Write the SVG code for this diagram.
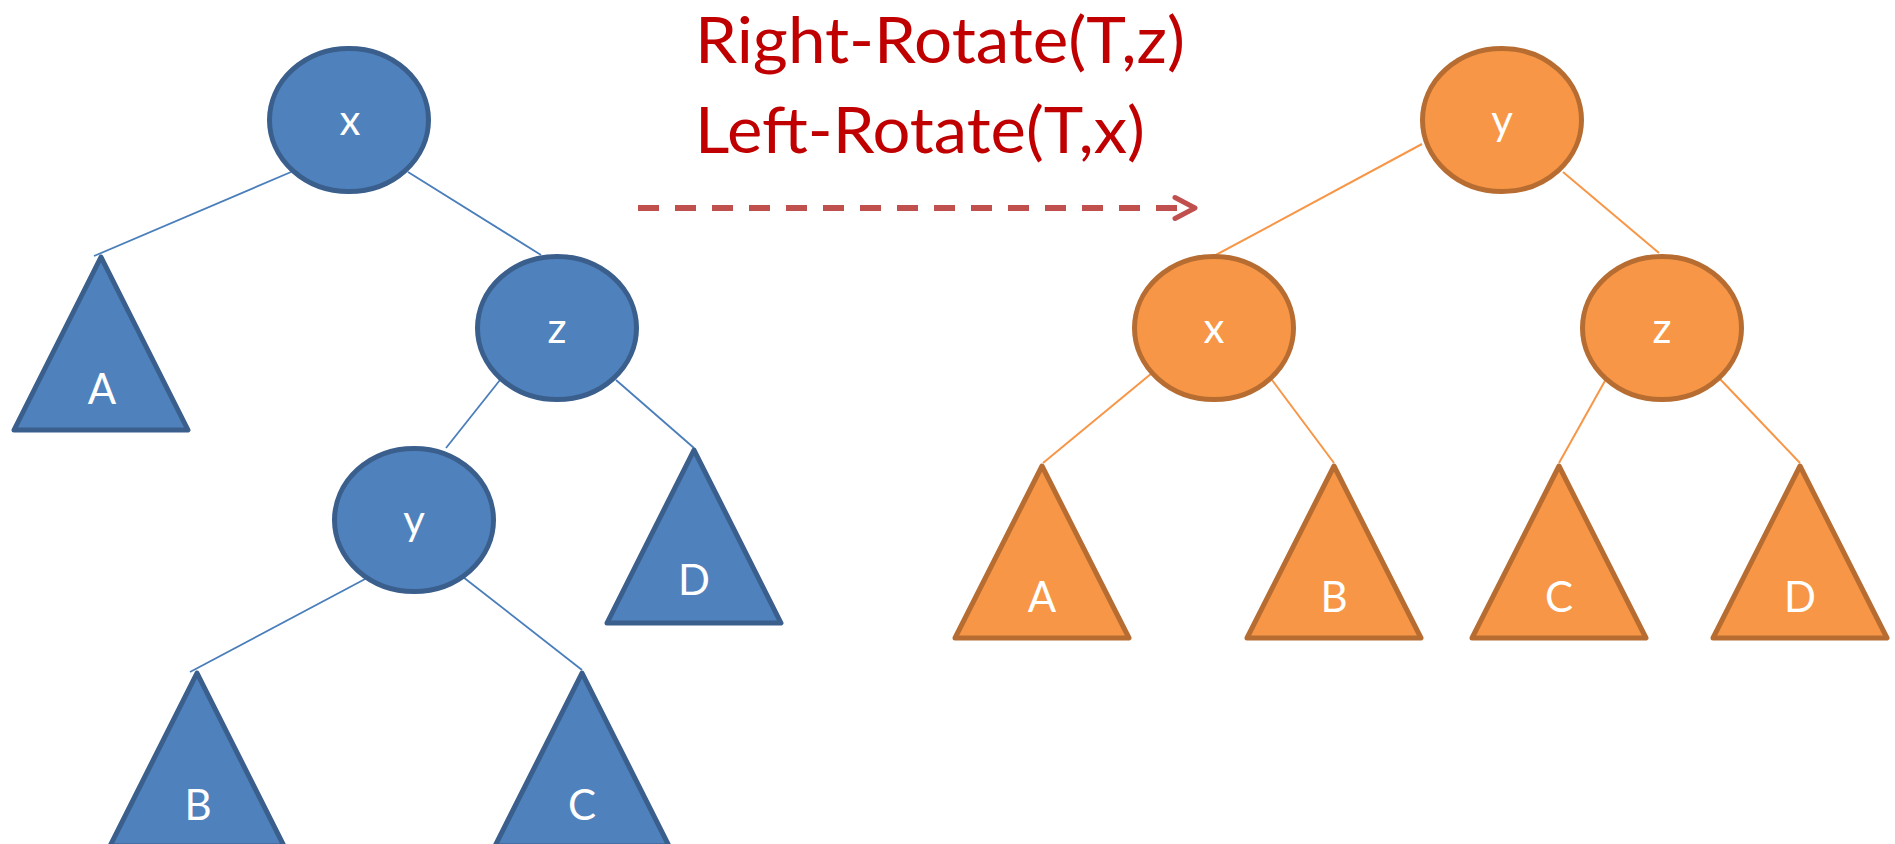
<svg xmlns="http://www.w3.org/2000/svg" width="1895" height="844" viewBox="0 0 1895 844">
  <style>
    .bn { fill: #4F81BD; stroke: #3A5F8C; stroke-width: 5; stroke-linejoin: round; }
    .on { fill: #F79646; stroke: #B76D31; stroke-width: 5; stroke-linejoin: round; }
    .bl { stroke: #4A7EBB; stroke-width: 1.8; fill: none; }
    .ol { stroke: #F79646; stroke-width: 2; fill: none; }
    .lbl { font-family: Lato, "Open Sans", sans-serif; font-size: 42px; fill: #FFFFFF; text-anchor: middle; }
    .title { font-family: Lato, "Open Sans", sans-serif; font-size: 64px; fill: #C00000; }
  </style>
  <defs>
    <marker id="chev" markerUnits="userSpaceOnUse" markerWidth="40" markerHeight="40" refX="0" refY="0" viewBox="-30 -20 40 40" orient="auto" overflow="visible">
      <path d="M-20,-10.5 L0,0 L-20,10.5" fill="none" stroke="#C0504D" stroke-width="5" stroke-linecap="round" stroke-linejoin="round"/>
    </marker>
  </defs>
  <rect width="1895" height="844" fill="#FFFFFF"/>

  <g id="connectors">
    <line class="bl" x1="291" y1="172" x2="94" y2="256"/>
    <line class="bl" x1="408" y1="172" x2="541" y2="255"/>
    <line class="bl" x1="500" y1="380" x2="446" y2="448"/>
    <line class="bl" x1="616" y1="380" x2="694" y2="448"/>
    <line class="bl" x1="367" y1="578" x2="190" y2="672"/>
    <line class="bl" x1="463" y1="577" x2="582" y2="670"/>
    <line class="ol" x1="1422" y1="144" x2="1214" y2="256"/>
    <line class="ol" x1="1563" y1="172" x2="1659" y2="253"/>
    <line class="ol" x1="1152" y1="373" x2="1043" y2="463"/>
    <line class="ol" x1="1272" y1="380" x2="1334" y2="463"/>
    <line class="ol" x1="1606" y1="379" x2="1559" y2="463"/>
    <line class="ol" x1="1720" y1="379" x2="1800" y2="463"/>
    <line id="rotate-arrow" x1="638" y1="208" x2="1195" y2="208" stroke="#C0504D" stroke-width="6" stroke-dasharray="21 16" marker-end="url(#chev)"/>
  </g>

  <g id="title">
    <text class="title" x="695" y="63" textLength="490" lengthAdjust="spacingAndGlyphs">Right-Rotate(T,z)</text>
    <text class="title" x="695" y="153" textLength="450" lengthAdjust="spacingAndGlyphs">Left-Rotate(T,x)</text>
  </g>

  <!-- Left tree -->
  <g id="L-x"><ellipse class="bn" cx="349" cy="120" rx="79.5" ry="71.5"/><text class="lbl" x="350" y="135">x</text></g>
  <g id="L-z"><ellipse class="bn" cx="557" cy="328" rx="79.5" ry="71.5"/><text class="lbl" x="557" y="343">z</text></g>
  <g id="L-y"><ellipse class="bn" cx="414" cy="520" rx="79.5" ry="71.5"/><text class="lbl" x="414" y="535">y</text></g>
  <g id="L-A"><path class="bn" d="M101,257 L188,430 L14,430 Z"/><text class="lbl" x="102" y="404">A</text></g>
  <g id="L-D"><path class="bn" d="M694,450 L781,623 L607,623 Z"/><text class="lbl" x="694" y="595">D</text></g>
  <g id="L-B"><path class="bn" d="M197,673 L284,846 L110,846 Z"/><text class="lbl" x="198" y="820">B</text></g>
  <g id="L-C"><path class="bn" d="M582,673 L669,846 L495,846 Z"/><text class="lbl" x="582" y="820">C</text></g>

  <!-- Right tree -->
  <g id="R-y"><ellipse class="on" cx="1502" cy="120" rx="79.5" ry="71.5"/><text class="lbl" x="1502" y="135">y</text></g>
  <g id="R-x"><ellipse class="on" cx="1214" cy="328" rx="79.5" ry="71.5"/><text class="lbl" x="1214" y="343">x</text></g>
  <g id="R-z"><ellipse class="on" cx="1662" cy="328" rx="79.5" ry="71.5"/><text class="lbl" x="1662" y="343">z</text></g>
  <g id="R-A"><path class="on" d="M1042,466 L1129,638 L955,638 Z"/><text class="lbl" x="1042" y="612">A</text></g>
  <g id="R-B"><path class="on" d="M1334,466 L1421,638 L1247,638 Z"/><text class="lbl" x="1334" y="612">B</text></g>
  <g id="R-C"><path class="on" d="M1559,466 L1646,638 L1472,638 Z"/><text class="lbl" x="1559" y="612">C</text></g>
  <g id="R-D"><path class="on" d="M1800,466 L1887,638 L1713,638 Z"/><text class="lbl" x="1800" y="612">D</text></g>
</svg>
